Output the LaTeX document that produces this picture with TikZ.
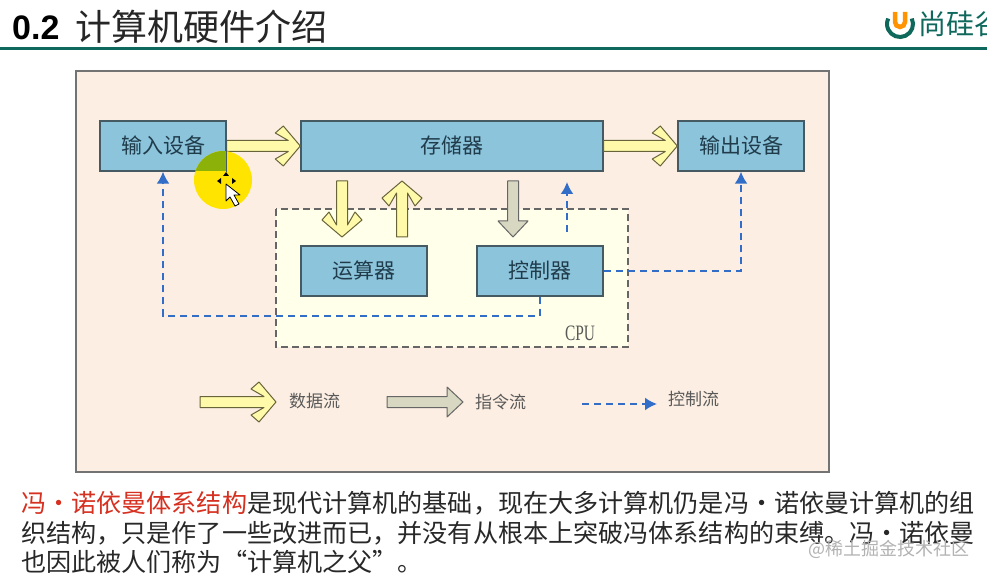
\documentclass[tikz,border=0pt]{standalone}
\usepackage{fontspec}
\setmainfont{Liberation Sans}
\newfontfamily\cjk{Noto Sans CJK SC}
\newfontfamily\cpufont[FakeStretch=0.7]{Liberation Serif}
\usetikzlibrary{positioning,arrows.meta,calc}
\definecolor{rulec}{RGB}{14,104,92}
\definecolor{framec}{RGB}{252,238,226}
\definecolor{cpuc}{RGB}{255,255,234}
\definecolor{boxc}{RGB}{140,196,220}
\definecolor{edgec}{RGB}{70,90,100}
\definecolor{dataf}{RGB}{255,250,170}
\definecolor{instf}{RGB}{216,216,194}
\definecolor{ctrlc}{RGB}{50,110,200}
\definecolor{textc}{RGB}{40,40,40}
\definecolor{boxtext}{RGB}{32,60,75}
\definecolor{redc}{RGB}{214,48,32}
\definecolor{spotc}{RGB}{255,228,0}
\definecolor{spotg}{RGB}{140,178,10}
\tikzset{
  unitbox/.style={draw=edgec,fill=boxc,line width=1.4pt,text=boxtext,font=\cjk\fontsize{21}{23}\selectfont,inner sep=0pt},
  dataflow/.style={draw=black!50!olive!90,fill=dataf,line width=1pt,line join=round},
  instflow/.style={draw=black!60,fill=instf,line width=1pt,line join=round},
  ctrlflow/.style={ctrlc,line width=2pt,dash pattern=on 7pt off 5pt,-{Latex[length=12pt,width=13pt]}},
  legendtext/.style={text=black!65,font=\cjk\fontsize{17}{19}\selectfont,inner sep=0pt},
  bodytext/.style={anchor=west,inner sep=0pt,text=textc,font=\cjk\fontsize{25.1}{26}\selectfont},
}
% chevron block arrow, from node to node
\newcommand{\flowarrow}[3]{
  \draw[#1] ($(#2)!5.5pt!90:(#3)$) -- ($(#3)!12pt!(#2)!5.5pt!-90:(#2)$)
    -- ($(#3)!25pt!(#2)!13pt!-90:(#2)$) -- ($(#3)!17pt!(#2)!20pt!-90:(#2)$)
    -- (#3) -- ($(#3)!17pt!(#2)!20pt!90:(#2)$) -- ($(#3)!25pt!(#2)!13pt!90:(#2)$)
    -- ($(#3)!12pt!(#2)!5.5pt!90:(#2)$) -- ($(#2)!5.5pt!-90:(#3)$) -- cycle;
}
% block arrow with a plain head
\newcommand{\instarrow}[3]{
  \draw[#1] ($(#2)!5.5pt!90:(#3)$) -- ($(#3)!16pt!(#2)!5.5pt!-90:(#2)$)
    -- ($(#3)!16pt!(#2)!15pt!-90:(#2)$) -- (#3) -- ($(#3)!16pt!(#2)!15pt!90:(#2)$)
    -- ($(#3)!16pt!(#2)!5.5pt!90:(#2)$) -- ($(#2)!5.5pt!-90:(#3)$) -- cycle;
}
\begin{document}
\begin{tikzpicture}[x=1pt,y=-1pt]
  \useasboundingbox (0,0) rectangle (987,577);
  \fill[white] (0,0) rectangle (987,577);
  % title
  \node[anchor=west,inner sep=0pt,font=\bfseries\fontsize{34}{36}\selectfont] (title) at (12,28) {0.2};
  \node[anchor=west,inner sep=0pt,text=black!85,font=\cjk\fontsize{36}{38}\selectfont] (titlecn) at (75,27) {计算机硬件介绍};
  \draw[rulec,line width=3pt] (0,49) -- (987,49);
  % logo
  \draw[rulec,line width=4pt] (900,24) ++(-25:13) arc (-25:205:13);
  \draw[orange!85!yellow,line width=4.5pt] (895,12) -- (895,22) arc (180:0:5) -- (905,12);
  \node[anchor=west,inner sep=0pt,text=rulec,font=\cjk\fontsize{28}{30}\selectfont] (logotext) at (918,23.5) {尚硅谷};
  % panel
  \draw[black!55,fill=framec,line width=1.4pt] (76,71) rectangle (829,472);
  \draw[black!60,fill=cpuc,line width=1.4pt,dash pattern=on 7pt off 4pt] (276,209) rectangle (628,347);
  \node[unitbox,minimum width=126pt,minimum height=50pt] (input) at (163,146) {输入设备};
  \node[unitbox,minimum width=302pt,minimum height=50pt] (memory) at (452,146) {存储器};
  \node[unitbox,minimum width=126pt,minimum height=50pt] (output) at (741,146) {输出设备};
  \node[unitbox,minimum width=126pt,minimum height=50pt] (alu) at (364,271) {运算器};
  \node[unitbox,minimum width=126pt,minimum height=50pt] (ctrl) at (540,271) {控制器};
  \node[inner sep=0pt,text=black!65,font=\cpufont\fontsize{22}{24}\selectfont] (cpu) at (580,333) {CPU};
  % flows
  \flowarrow{dataflow}{input.east}{memory.west}
  \flowarrow{dataflow}{memory.east}{output.west}
  \coordinate (aluin0) at (342,181);
  \coordinate (aluin1) at (342,237);
  \coordinate (aluout0) at (402,237);
  \coordinate (aluout1) at (402,181);
  \coordinate (inst0) at (513,181);
  \coordinate (inst1) at (513,237);
  \flowarrow{dataflow}{aluin0}{aluin1}
  \flowarrow{dataflow}{aluout0}{aluout1}
  \instarrow{instflow}{inst0}{inst1}
  \coordinate (memctl0) at (567,232);
  \coordinate (memctl1) at (567,182);
  \draw[ctrlflow] (memctl0) -- (memctl1);
  \draw[ctrlflow] (ctrl.south) -- (ctrl.south |- 0,316) -| (input.south);
  \draw[ctrlflow] (ctrl.east) -| (output.south);
  % legend
  \coordinate (leg1a) at (200,402);
  \coordinate (leg1b) at (276,402);
  \coordinate (leg2a) at (387,402);
  \coordinate (leg2b) at (463,402);
  \coordinate (leg3a) at (582,404);
  \coordinate (leg3b) at (657,404);
  \flowarrow{dataflow}{leg1a}{leg1b}
  \instarrow{instflow}{leg2a}{leg2b}
  \draw[ctrlflow] (leg3a) -- (leg3b);
  \node[legendtext,anchor=west] (legdata) at (289,401) {数据流};
  \node[legendtext,anchor=west] (leginst) at (475,402) {指令流};
  \node[legendtext,anchor=west] (legctrl) at (668,399) {控制流};
  % pointer
  \fill[spotc] (223,180) circle (29);
  \begin{scope}
    \clip (100,121) rectangle (226,171);
    \fill[spotg] (223,180) circle (29);
  \end{scope}
  \draw[edgec,line width=1.4pt] (input.north east) -- (input.south east);
  \draw[black,fill=white,line width=.8pt,line join=round] (226,184) -- (226,201) -- (230,197) -- (235,206) -- (239,204) -- (234,195) -- (240,195) -- cycle;
  \fill[black] (226,172) -- (223,176) -- (229,176) -- cycle;
  \fill[black] (217,181) -- (221,178) -- (221,184) -- cycle;
  \fill[black] (236,181) -- (232,178) -- (232,184) -- cycle;
  % text
  \node[bodytext] (line1) at (21,503) {\textcolor{redc}{冯・诺依曼体系结构}是现代计算机的基础，现在大多计算机仍是冯・诺依曼计算机的组};
  \node[bodytext] (line2) at (21,533) {织结构，只是作了一些改进而已，并没有从根本上突破冯体系结构的束缚。冯・诺依曼};
  \node[bodytext] (line3) at (21,562) {也因此被人们称为“计算机之父”。};
  \node[anchor=west,inner sep=0pt,text=black!30,font=\cjk\fontsize{18}{20}\selectfont] (mark) at (808,549) {@稀土掘金技术社区};
\end{tikzpicture}
\end{document}
